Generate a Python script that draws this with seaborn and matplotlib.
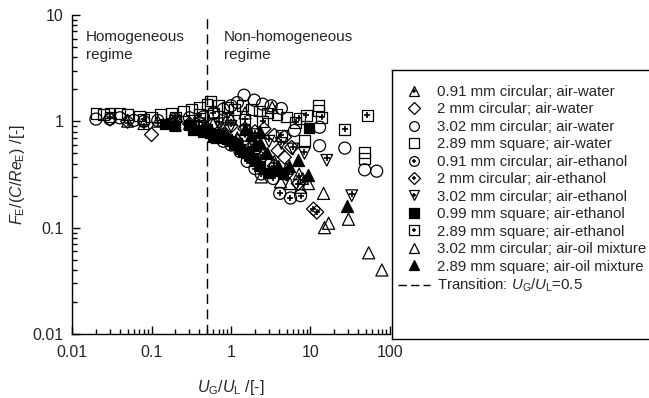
import matplotlib
matplotlib.use("Agg")
import matplotlib.pyplot as plt
from matplotlib.lines import Line2D
from matplotlib.ticker import FuncFormatter, LogLocator
import seaborn as sns

# 0.91 mm circular; air-water (triangle with plus)
tri_plus_x = [0.05, 0.08, 0.12, 0.2, 0.3, 0.5, 0.8, 1.2, 1.8, 2.5, 3.5, 5.0, 7.2, 8.0]
tri_plus_y = [1.0, 0.95, 1.0, 0.92, 0.95, 0.9, 0.85, 0.7, 0.6, 0.5, 0.42, 0.36, 0.32, 0.29]

# 2 mm circular; air-water (open diamond)
dia_x = [0.03, 0.05, 0.1, 0.2, 0.4, 0.6, 1.0, 1.5, 2.0, 2.6, 3.5, 3.9, 4.7, 4.7, 5.8]
dia_y = [1.05, 1.0, 0.75, 1.0, 0.98, 0.95, 0.9, 0.85, 0.8, 0.85, 0.74, 0.53, 0.71, 0.46, 0.57]

# 3.02 mm circular; air-water (open circle)
circ_x = [0.02, 0.03, 0.04, 0.06, 0.08, 0.12, 0.2, 0.3, 0.45, 0.6, 0.8, 1.0, 1.2,
          1.46, 1.96, 2.5, 3.2, 4.3, 6.3, 13, 13, 27, 48, 68]
circ_y = [1.05, 1.05, 1.08, 1.02, 1.0, 1.02, 1.05, 1.08, 1.1, 1.2, 1.3, 1.4, 1.5,
          1.76, 1.58, 1.45, 1.4, 1.32, 0.82, 0.88, 0.59, 0.56, 0.35, 0.34]

# 2.89 mm square; air-water (open square)
sq_x = [0.02, 0.025, 0.03, 0.04, 0.05, 0.07, 0.1, 0.13, 0.18, 0.25, 0.32, 0.4, 0.5, 0.55,
        0.7, 0.9, 1.1, 1.4, 1.8, 2.3, 2.9, 3.8, 5.0, 8.4, 12.6, 12.6, 48, 48]
sq_y = [1.18, 1.15, 1.2, 1.18, 1.15, 1.12, 1.1, 1.15, 1.2, 1.25, 1.3, 1.35, 1.45, 1.55,
        1.4, 1.35, 1.3, 1.4, 1.3, 1.25, 1.2, 1.15, 1.1, 0.66, 1.27, 1.42, 0.45, 0.51]

# 0.91 mm circular; air-ethanol (circle with plus)
circ_plus_x = [0.4, 0.6, 0.8, 1.0, 1.3, 1.6, 2.0, 2.4, 3.4, 4.1, 5.6, 7.5]
circ_plus_y = [0.9, 0.75, 0.65, 0.6, 0.52, 0.42, 0.36, 0.32, 0.29, 0.21, 0.19, 0.2]

# 2 mm circular; air-ethanol (diamond with plus)
dia_plus_x = [0.3, 0.5, 0.8, 1.2, 1.7, 2.4, 3.5, 5.0, 7.0, 10.9, 12]
dia_plus_y = [0.95, 0.85, 0.75, 0.65, 0.55, 0.45, 0.38, 0.32, 0.26, 0.15, 0.14]

# 3.02 mm circular; air-ethanol (down triangle with plus)
dtri_plus_x = [0.2, 0.4, 0.7, 1.0, 1.5, 2.0, 3.0, 4.3, 6.0, 8.4, 16, 33]
dtri_plus_y = [1.0, 0.95, 0.95, 0.9, 0.8, 0.75, 0.65, 0.62, 0.55, 0.5, 0.43, 0.2]

# 0.99 mm square; air-ethanol (filled square)
fsq_x = [0.15, 0.2, 0.3, 0.33, 0.45, 0.5, 0.55, 0.59, 0.65, 0.7, 0.8, 0.9, 1.0, 1.1, 1.2,
         1.3, 1.4, 1.6, 1.7, 1.9, 2.0, 2.3, 2.9, 3.4, 4.5, 9.5]
fsq_y = [0.95, 0.9, 0.92, 0.82, 0.8, 0.85, 0.78, 0.71, 0.7, 0.75, 0.72, 0.68, 0.65, 0.6, 0.62,
         0.55, 0.52, 0.5, 0.48, 0.45, 0.42, 0.38, 0.33, 0.34, 0.32, 0.87]

# 2.89 mm square; air-ethanol (square with plus)
sq_plus_x = [0.03, 0.08, 0.2, 0.4, 0.6, 0.9, 1.5, 2.5, 4.3, 6.5, 7.2, 8.9, 13.8, 27, 52]
sq_plus_y = [1.1, 1.05, 1.1, 1.15, 1.2, 1.1, 1.05, 1.0, 0.74, 0.98, 1.07, 1.14, 1.09, 0.84, 1.14]

# 3.02 mm circular; air-oil mixture (open triangle)
otri_x = [0.6, 1.0, 1.5, 2.4, 3.3, 4.2, 5.5, 7.5, 9.4, 14.6, 15, 16.9, 30, 54, 79]
otri_y = [0.95, 1.05, 1.2, 0.3, 1.35, 0.27, 0.26, 0.24, 0.26, 0.21, 0.1, 0.11, 0.12, 0.058, 0.04]

# 2.89 mm square; air-oil mixture (filled triangle)
ftri_x = [1.5, 1.8, 2.0, 2.3, 2.3, 2.8, 3.9, 5.4, 7.0, 9.2, 28.5]
ftri_y = [0.85, 0.75, 0.6, 0.79, 0.63, 0.5, 0.38, 0.38, 0.43, 0.31, 0.16]

transition = 0.5

labels = [
    "0.91 mm circular; air-water",
    "2 mm circular; air-water",
    "3.02 mm circular; air-water",
    "2.89 mm square; air-water",
    "0.91 mm circular; air-ethanol",
    "2 mm circular; air-ethanol",
    "3.02 mm circular; air-ethanol",
    "0.99 mm square; air-ethanol",
    "2.89 mm square; air-ethanol",
    "3.02 mm circular; air-oil mixture",
    "2.89 mm square; air-oil mixture",
    r"Transition: $\mathit{U}_\mathrm{G}/\mathit{U}_\mathrm{L}$=0.5",
]

sns.set_theme(style="ticks")
plt.rcParams["font.family"] = ["Liberation Sans", "DejaVu Sans"]
plt.rcParams["mathtext.fontset"] = "custom"
plt.rcParams["mathtext.rm"] = "Liberation Sans"
plt.rcParams["mathtext.it"] = "Liberation Sans:italic"
plt.rcParams["font.size"] = 11

fig = plt.figure(figsize=(6.49, 3.98), dpi=100)
ax = fig.add_axes([72 / 649, 1 - 334 / 398, (390 - 72) / 649, (334 - 15) / 398])

# (x, y, marker, size, filled, plus-overlay)
series = [
    (tri_plus_x, tri_plus_y, "^", 70, False, True),
    (dia_x, dia_y, "D", 50, False, False),
    (circ_x, circ_y, "o", 75, False, False),
    (sq_x, sq_y, "s", 60, False, False),
    (circ_plus_x, circ_plus_y, "o", 75, False, True),
    (dia_plus_x, dia_plus_y, "D", 50, False, True),
    (dtri_plus_x, dtri_plus_y, "v", 70, False, True),
    (fsq_x, fsq_y, "s", 60, True, False),
    (sq_plus_x, sq_plus_y, "s", 60, False, True),
    (otri_x, otri_y, "^", 75, False, False),
    (ftri_x, ftri_y, "^", 75, True, False),
]

for xs, ys, mk, s, filled, plus in series:
    sns.scatterplot(x=xs, y=ys, marker=mk, s=s, ax=ax, legend=False,
                    facecolor="black" if filled else "none", edgecolor="black",
                    linewidth=0.9, zorder=3)
    if plus:
        yp = ys
        if mk == "^":
            yp = [v * 0.96 for v in ys]
        elif mk == "v":
            yp = [v * 1.04 for v in ys]
        sns.scatterplot(x=xs, y=yp, marker="+", s=14, ax=ax, legend=False,
                        color="black", linewidth=1.2, zorder=4)

ax.axvline(transition, color="black", linewidth=1.0, linestyle=(0, (7, 4)), zorder=2)

ax.set_xscale("log")
ax.set_yscale("log")
ax.set_xlim(0.01, 100)
ax.set_ylim(0.01, 10)
fmt = FuncFormatter(lambda v, p: f"{v:g}")
ax.xaxis.set_major_formatter(fmt)
ax.yaxis.set_major_formatter(fmt)
ax.xaxis.set_minor_locator(LogLocator(base=10, subs=range(2, 10)))
ax.yaxis.set_minor_locator(LogLocator(base=10, subs=range(2, 10)))
ax.tick_params(which="both", direction="in", width=1.0, labelsize=11.5, color="black")
ax.tick_params(which="major", length=6)
ax.tick_params(axis="x", which="major", pad=8)
ax.tick_params(axis="y", which="major", pad=6)
ax.tick_params(which="minor", length=3.5)
sns.despine(ax=ax)
for sp in ax.spines.values():
    sp.set_linewidth(1.0)
    sp.set_color("black")

ax.set_xlabel(r"$\mathit{U}_\mathrm{G}/\mathit{U}_\mathrm{L}$ /[-]", fontsize=11.5, labelpad=13)
ax.set_ylabel(r"$\mathit{F}_\mathrm{E}/(\mathit{C}/\mathit{Re}_\mathrm{E})$ /[-]", fontsize=11.5, labelpad=4)

ax.text(0.0148, 7.3, "Homogeneous\nregime", ha="left", va="top", fontsize=11, linespacing=1.4)
ax.text(0.82, 7.3, "Non-homogeneous\nregime", ha="left", va="top", fontsize=11, linespacing=1.4)

# legend box
lax = fig.add_axes([392 / 649, 1 - 339 / 398, (660 - 392) / 649, (339 - 70) / 398])
lax.set_xticks([])
lax.set_yticks([])
lax.patch.set_alpha(0)
for sp in lax.spines.values():
    sp.set_linewidth(1.0)
    sp.set_color("black")

handles = []
for xs, ys, mk, s, filled, plus in series:
    base = Line2D([], [], linestyle="none", marker=mk,
                  markersize=7.0 if mk != "D" else 6.0,
                  markerfacecolor="black" if filled else "none",
                  markeredgecolor="black", markeredgewidth=0.9)
    if plus:
        handles.append((base, Line2D([], [], linestyle="none", marker="+", markersize=3.5,
                                     markeredgecolor="black", markeredgewidth=1.1)))
    else:
        handles.append(base)
handles.append(Line2D([], [], color="black", linewidth=1.0, linestyle=(0, (6, 3))))

lax.legend(handles, labels, loc="upper left", bbox_to_anchor=(0.0, 1 - 9 / 269), frameon=False,
           fontsize=10.8, labelspacing=0.23, handlelength=2.1, handletextpad=0.52,
           borderaxespad=0.0, borderpad=0.4)

fig.savefig("out.png", dpi=100)
